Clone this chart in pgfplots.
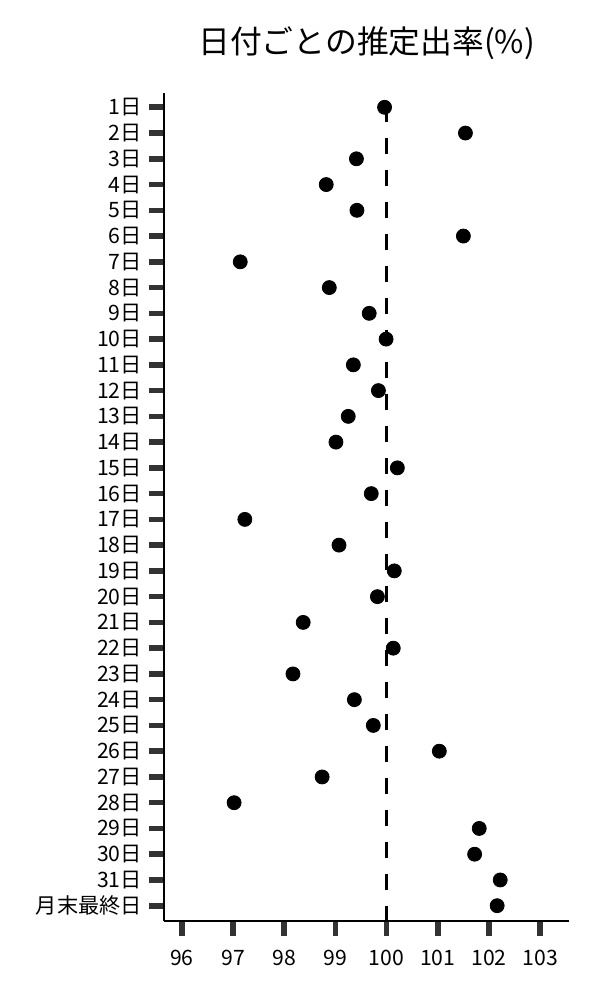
\documentclass[border=0pt]{standalone}
\usepackage{fontspec}
\setmainfont{Noto Sans CJK JP}
\usepackage{pgfplots}
\pgfplotsset{compat=1.18}

\begin{document}
\begin{tikzpicture}
  \useasboundingbox (-82pt,-39.5pt) rectangle (218pt,460.5pt);
  \begin{axis}[
    scale only axis,
    width=202.65pt, height=414pt,
    xmin=95.65, xmax=103.57,
    ymin=-0.555, ymax=31.594,
    y dir=reverse,
    axis x line*=bottom, axis y line*=left,
    axis line style={-, line width=0.65pt, black},
    xtick={96,...,103},
    ytick={0,...,31},
    yticklabels={1日,2日,3日,4日,5日,6日,7日,8日,9日,10日,
      11日,12日,13日,14日,15日,16日,17日,18日,19日,20日,
      21日,22日,23日,24日,25日,26日,27日,28日,29日,30日,31日,月末最終日},
    tick align=outside,
    major tick length=7.5pt,
    tick style={line width=2.8pt, color=black!80},
    ticklabel style={font=\fontsize{10.6pt}{12pt}\selectfont},
    xticklabel style={/pgf/number format/assume math mode=true, yshift=-3.3pt},
    title={日付ごとの推定出率(\%)},
    every axis title/.style={at={(0.5,1)}, anchor=base, yshift=19.5pt,
      font=\fontsize{15.9pt}{18pt}\selectfont},
  ]
    \addplot[line width=1.2pt, black, dash pattern=on 8pt off 8pt, dash phase=9.35pt]
      coordinates {(100,-0.555) (100,31.594)};
    \addplot[only marks, mark=*, mark size=3.5pt, black] coordinates {
      (99.96,0) (101.54,1) (99.41,2) (98.82,3) (99.42,4) (101.50,5)
      (97.14,6) (98.88,7) (99.66,8) (99.99,9) (99.35,10) (99.84,11)
      (99.25,12) (99.01,13) (100.21,14) (99.70,15) (97.23,16) (99.07,17)
      (100.15,18) (99.82,19) (98.37,20) (100.13,21) (98.17,22) (99.37,23)
      (99.74,24) (101.03,25) (98.74,26) (97.02,27) (101.81,28) (101.72,29)
      (102.22,30) (102.16,31)
    };
  \end{axis}
\end{tikzpicture}
\end{document}
